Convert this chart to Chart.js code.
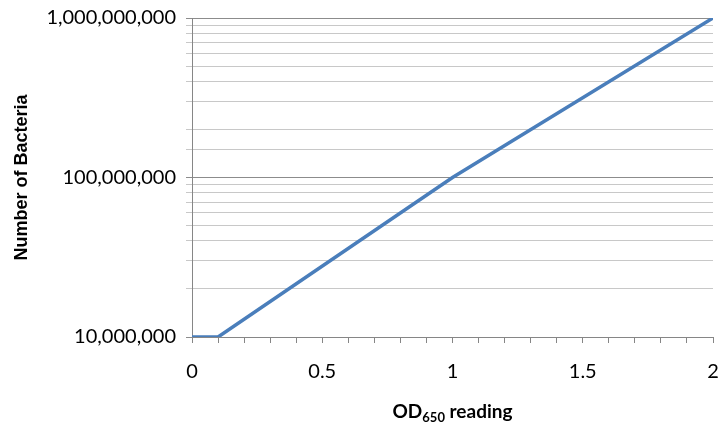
<!DOCTYPE html>
<html>
<head>
<meta charset="utf-8">
<script src="https://cdn.jsdelivr.net/npm/chart.js@4"></script>
<style>
  body { margin: 0; background: #fff; }
  canvas { display: block; }
</style>
</head>
<body>
<canvas id="chart" width="722" height="426"></canvas>
<script>
const odReadings = [0, 0.1, 1, 2];
const bacteriaCounts = [10000000, 10000000, 100000000, 1000000000];
const xTickLabels = ['0', '0.5', '1', '1.5', '2'];
const yTickLabels = ['10,000,000', '100,000,000', '1,000,000,000'];

const labelFont = { family: 'Lato, "Open Sans", sans-serif', size: 20 };

const xTitlePlugin = {
    id: 'xTitle',
    afterDraw(chart) {
        const ctx = chart.ctx;
        const cx = (chart.chartArea.left + chart.chartArea.right) / 2;
        const y = 418;
        ctx.save();
        ctx.fillStyle = '#000';
        ctx.textBaseline = 'alphabetic';
        const big = 'bold 19px Lato, "Open Sans", sans-serif';
        const small = 'bold 13px Lato, "Open Sans", sans-serif';
        ctx.font = big;
        const w1 = ctx.measureText('OD').width;
        const w3 = ctx.measureText(' reading').width;
        ctx.font = small;
        const w2 = ctx.measureText('650').width;
        let x = cx - (w1 + w2 + w3) / 2;
        ctx.font = big;
        ctx.fillText('OD', x, y);
        x += w1;
        ctx.font = small;
        ctx.fillText('650', x, y + 4);
        x += w2;
        ctx.font = big;
        ctx.fillText(' reading', x, y);
        ctx.restore();
    }
};

const isMajor = v => Math.abs(Math.log10(v) - Math.round(Math.log10(v))) < 1e-9;

new Chart(document.getElementById('chart').getContext('2d'), {
    type: 'line',
    data: {
        datasets: [{
            data: odReadings.map((x, i) => ({ x: x, y: bacteriaCounts[i] })),
            borderColor: '#4a7ebb',
            borderWidth: 3.5,
            pointRadius: 0,
            tension: 0,
            fill: false
        }]
    },
    options: {
        responsive: false,
        animation: false,
        layout: { padding: { top: 18, right: 9, left: 0, bottom: 0 } },
        plugins: {
            legend: { display: false },
            tooltip: { enabled: false }
        },
        scales: {
            x: {
                type: 'linear',
                min: 0,
                max: 2,
                afterFit: s => { s.height = 89; s.paddingLeft = 0; s.paddingRight = 0; },
                border: { color: '#868686', width: 1 },
                grid: {
                    drawOnChartArea: false,
                    drawTicks: true,
                    tickLength: 6,
                    color: '#868686'
                },
                ticks: {
                    stepSize: 0.1,
                    autoSkip: false,
                    maxRotation: 0,
                    padding: 17,
                    color: '#000',
                    font: labelFont,
                    callback: v => {
                        if (Math.abs(v * 2 - Math.round(v * 2)) > 1e-9) return '';
                        return xTickLabels[Math.round(v * 2)];
                    }
                }
            },
            y: {
                type: 'logarithmic',
                min: 10000000,
                max: 1000000000,
                afterFit: s => { s.width = 192; s.paddingTop = 0; s.paddingBottom = 0; },
                border: { color: '#868686', width: 1 },
                grid: {
                    tickLength: 6,
                    color: ctx => isMajor(ctx.tick.value) ? '#8c8c8c' : '#c8c8c8',
                    lineWidth: 1
                },
                ticks: {
                    autoSkip: false,
                    padding: 10,
                    color: '#000',
                    font: labelFont,
                    callback: v => isMajor(v) ? yTickLabels[Math.round(Math.log10(v)) - 7] : ''
                },
                title: {
                    display: true,
                    text: 'Number of Bacteria',
                    color: '#000',
                    font: { family: '"Liberation Sans", Arial, sans-serif', size: 18, weight: 'bold' },
                    padding: { top: 11, bottom: 0 }
                }
            }
        }
    },
    plugins: [xTitlePlugin]
});
</script>
</body>
</html>
